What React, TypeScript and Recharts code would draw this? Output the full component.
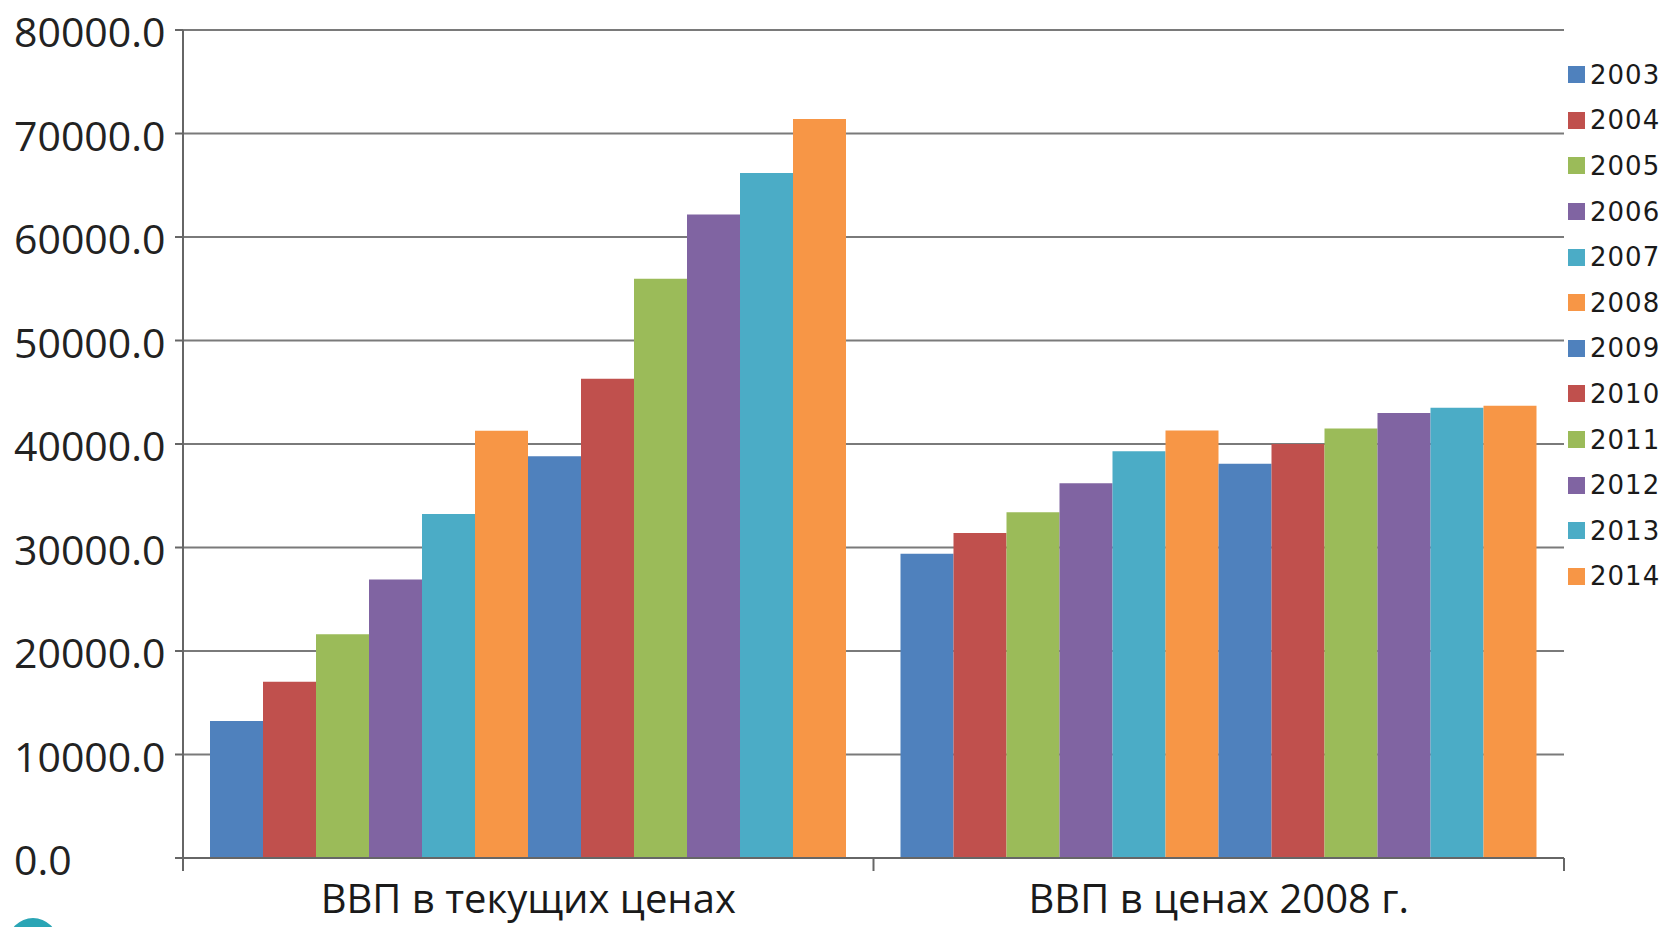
import { Bar, BarChart, CartesianGrid, XAxis, YAxis } from "recharts";

const CATEGORIES = ["ВВП в текущих ценах", "ВВП в ценах 2008 г."];
const YEARS = ["2003", "2004", "2005", "2006", "2007", "2008", "2009", "2010", "2011", "2012", "2013", "2014"];
// one pair per year: [current prices, 2008 prices]
const VALUES = [
  [13243, 29400],
  [17027, 31400],
  [21610, 33400],
  [26917, 36200],
  [33248, 39300],
  [41277, 41300],
  [38807, 38100],
  [46309, 40000],
  [55967, 41500],
  [62177, 43000],
  [66190, 43500],
  [71406, 43700],
];
const COLORS = ["#4F81BD", "#C0504D", "#9BBB59", "#8064A2", "#4BACC6", "#F79646"];
const Y_TICKS = [0, 10000, 20000, 30000, 40000, 50000, 60000, 70000, 80000];

const data = CATEGORIES.map((name, ci) => {
  const row: Record<string, string | number> = { name };
  YEARS.forEach((y, yi) => (row[y] = VALUES[yi][ci]));
  return row;
});

const FONT = "'Open Sans', sans-serif";

function YTick(props: any) {
  const { y, payload } = props;
  return (
    <text x={14} y={y + 1} textAnchor="start" dominantBaseline="central" fontSize={41} fontFamily={FONT} fill="#222">
      {payload.value.toFixed(1)}
    </text>
  );
}

function XTick(props: any) {
  const { x, y, payload, index, width, visibleTicksCount } = props;
  const band = width / visibleTicksCount;
  const left = x - band / 2;
  return (
    <g>
      <line x1={left} x2={left} y1={y - 8} y2={y + 5} stroke="#666" strokeWidth={2} />
      {index === visibleTicksCount - 1 && (
        <line x1={x + band / 2} x2={x + band / 2} y1={y - 8} y2={y + 5} stroke="#666" strokeWidth={2} />
      )}
      <text x={x} y={y + 47} textAnchor="middle" fontSize={40} fontFamily={FONT} fill="#1a1a1a">
        {payload.value}
      </text>
    </g>
  );
}

export default function App() {
  return (
    <div style={{ position: "fixed", left: 0, top: 0, width: 1670, height: 927, background: "#fff", overflow: "hidden" }}>
      <BarChart
        width={1670}
        height={927}
        data={data}
        margin={{ top: 30, right: 106, bottom: 0, left: 0 }}
        barGap={0}
        barCategoryGap={27}
      >
        <CartesianGrid vertical={false} stroke="#7a7a7a" strokeWidth={2} />
        <XAxis
          dataKey="name"
          height={69}
          tickLine={false}
          axisLine={{ stroke: "#666", strokeWidth: 2 }}
          tick={<XTick />}
          interval={0}
        />
        <YAxis
          width={183}
          domain={[0, 80000]}
          ticks={Y_TICKS}
          tickSize={8}
          tickLine={{ stroke: "#666", strokeWidth: 2 }}
          axisLine={{ stroke: "#666", strokeWidth: 2 }}
          tick={<YTick />}
          interval={0}
        />
        {YEARS.map((y, i) => (
          <Bar key={y} dataKey={y} fill={COLORS[i % 6]} isAnimationActive={false} />
        ))}
      </BarChart>
      <div style={{ position: "absolute", left: 1568, top: 52, fontFamily: "'DejaVu Sans', sans-serif", fontSize: 26, color: "#1a1a1a" }}>
        {YEARS.map((y, i) => (
          <div key={y} style={{ display: "flex", alignItems: "center", height: 45.6 }}>
            <span style={{ display: "inline-block", width: 17, height: 17, background: COLORS[i % 6], marginRight: 5 }} />
            <span style={{ letterSpacing: 1 }}>{y}</span>
          </div>
        ))}
      </div>
      <div style={{ position: "absolute", left: 8, top: 918, width: 50, height: 50, borderRadius: "50%", background: "#2aa5b5" }} />
    </div>
  );
}
